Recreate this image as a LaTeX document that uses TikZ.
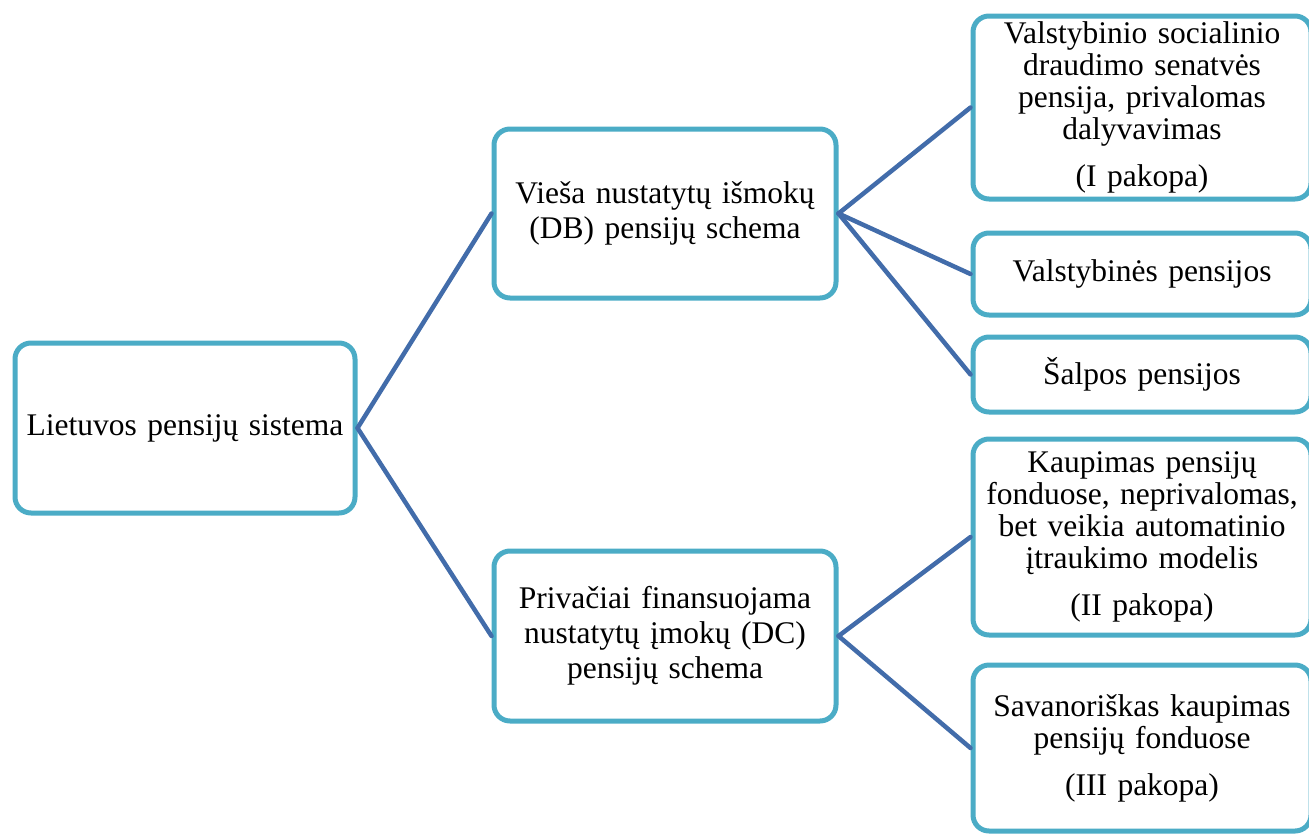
\documentclass[tikz,border=0pt]{standalone}
\usepackage{fontspec}
\setmainfont{Liberation Serif}
\definecolor{boxline}{RGB}{75,172,198}
\definecolor{connline}{RGB}{66,108,170}
\begin{document}
\begin{tikzpicture}[x=1pt,y=-1pt,
  box/.style={draw=boxline, line width=5pt, rounded corners=16pt, fill=white,
    inner sep=0pt, align=center, font=\fontsize{31.5}{35}\selectfont},
  conn/.style={draw=connline, line width=4.5pt, line cap=round}]
\useasboundingbox (0,0) rectangle (1309,833);
% nodes
\node[box, minimum width=340pt, minimum height=170pt, text width=336pt] (root) at (185,428) {Lietuvos pensijų sistema};
\node[box, minimum width=342pt, minimum height=169pt, text width=330pt] (db) at (665,213.5) {Vieša nustatytų išmokų\\(DB) pensijų schema};
\node[box, minimum width=342pt, minimum height=170pt, text width=330pt] (dc) at (665,636) {Privačiai finansuojama\\nustatytų įmokų (DC)\\pensijų schema};
\node[box, minimum width=338pt, minimum height=183pt, text width=330pt] (r1) at (1142,107.5) {Valstybinio socialinio\\[-3pt]draudimo senatvės\\[-3pt]pensija, privalomas\\[-3pt]dalyvavimas\\[12pt](I pakopa)};
\node[box, minimum width=338pt, minimum height=82pt, text width=330pt] (r2) at (1142,274) {Valstybinės pensijos};
\node[box, minimum width=338pt, minimum height=75pt, text width=330pt] (r3) at (1142,374.5) {Šalpos pensijos};
\node[box, minimum width=338pt, minimum height=196pt, text width=330pt] (r4) at (1142,537) {Kaupimas pensijų\\[-3pt]fonduose, neprivalomas,\\[-3pt]bet veikia automatinio\\[-3pt]įtraukimo modelis\\[12pt](II pakopa)};
\node[box, minimum width=338pt, minimum height=166pt, text width=330pt] (r5) at (1142,748) {Savanoriškas kaupimas\\[-3pt]pensijų fonduose\\[12pt](III pakopa)};
% connectors
\draw[conn] (root.east) -- (db.west);
\draw[conn] (root.east) -- (dc.west);
\draw[conn] (db.east) -- (r1.west);
\draw[conn] (db.east) -- (r2.west);
\draw[conn] (db.east) -- (r3.west);
\draw[conn] (dc.east) -- (r4.west);
\draw[conn] (dc.east) -- (r5.west);
\end{tikzpicture}
\end{document}
